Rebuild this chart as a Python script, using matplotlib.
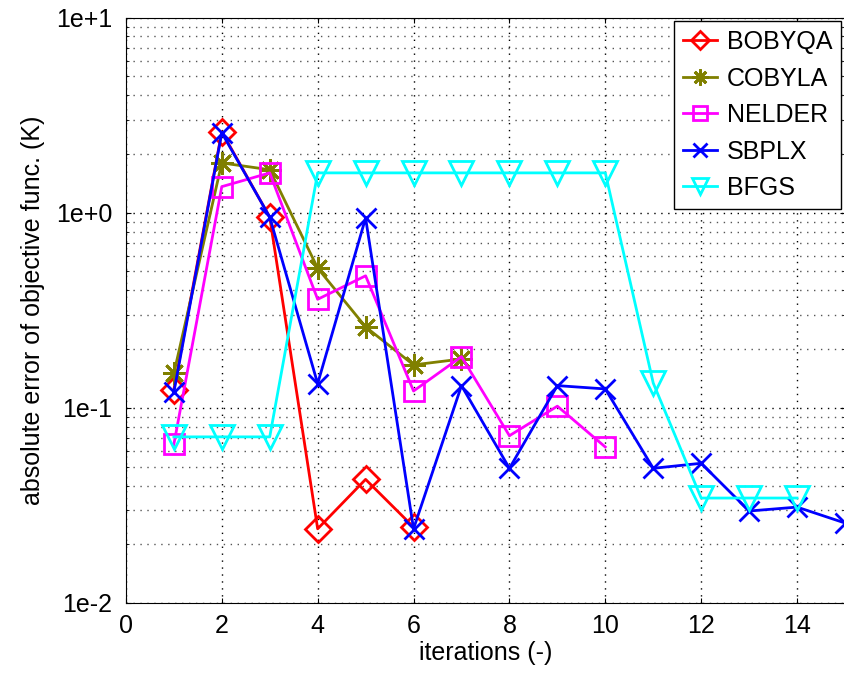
import numpy as np
import matplotlib.pyplot as plt
from matplotlib.ticker import FixedLocator, FixedFormatter, LogLocator, NullFormatter

plt.rcParams['font.family'] = ['Liberation Sans', 'DejaVu Sans']

it_bobyqa = [1, 2, 3, 4, 5, 6]
bobyqa = [0.124, 2.6, 0.95, 0.024, 0.043, 0.0245]

it_cobyla = [1, 2, 3, 4, 5, 6, 7]
cobyla = [0.15, 1.8, 1.66, 0.52, 0.26, 0.166, 0.178]

it_nelder = [1, 2, 3, 4, 5, 6, 7, 8, 9, 10]
nelder = [0.065, 1.36, 1.6, 0.36, 0.475, 0.122, 0.183, 0.072, 0.102, 0.063]

it_sbplx = [1, 2, 3, 4, 5, 6, 7, 8, 9, 10, 11, 12, 13, 14, 15]
sbplx = [0.12, 2.57, 0.95, 0.133, 0.94, 0.024, 0.13, 0.049, 0.13, 0.125,
         0.049, 0.052, 0.0296, 0.031, 0.0257]

it_bfgs = [1, 2, 3, 4, 5, 6, 7, 8, 9, 10, 11, 12, 13, 14]
bfgs = [0.071, 0.071, 0.071, 1.6, 1.6, 1.6, 1.6, 1.6, 1.6, 1.6, 0.134, 0.0345,
        0.0345, 0.0345]

fig = plt.figure(figsize=(8.45, 6.76), dpi=100)
ax = fig.add_axes([0.149, 0.108, 0.851, 0.866])

ms = 15
lw = 2
fs = 18
ax.plot(it_bobyqa, bobyqa, color='red', marker='D', ms=ms * 0.85, mfc='none',
        mew=lw, lw=lw, label='BOBYQA')
ax.plot(it_cobyla, cobyla, color='#808000', marker=(8, 2, 0), ms=ms * 1.1, mfc='none',
        mew=lw, lw=lw, label='COBYLA')
ax.plot(it_nelder, nelder, color='magenta', marker='s', ms=ms, mfc='none',
        mew=lw, lw=lw, label='NELDER')
ax.plot(it_sbplx, sbplx, color='blue', marker='x', ms=ms, mfc='none',
        mew=lw, lw=lw, label='SBPLX')
ax.plot(it_bfgs, bfgs, color='cyan', marker='v', ms=ms * 1.15, mfc='none',
        mew=lw, lw=lw, label='BFGS')

ax.set_yscale('log')
ax.set_xlim(0, 15)
ax.set_ylim(1e-2, 1e1)
ax.set_xticks([0, 2, 4, 6, 8, 10, 12, 14])
ax.yaxis.set_major_locator(FixedLocator([1e-2, 1e-1, 1e0, 1e1]))
ax.yaxis.set_major_formatter(FixedFormatter(['1e-2', '1e-1', '1e+0', '1e+1']))
ax.yaxis.set_minor_locator(LogLocator(base=10, subs=np.arange(2, 10)))
ax.yaxis.set_minor_formatter(NullFormatter())

ax.grid(True, which='major', linestyle=(0, (1, 4)), color='black', lw=1)
ax.grid(True, which='minor', axis='y', linestyle=(0, (1, 4)), color='#555555', lw=1)
ax.tick_params(which='both', direction='in', top=True, right=True, labelsize=fs)
ax.tick_params(axis='x', pad=8)
ax.tick_params(axis='y', pad=10)

ax.set_xlabel('iterations (-)', fontsize=fs, labelpad=2)
ax.set_ylabel('absolute error of objective func. (K)', fontsize=fs, labelpad=8)

leg = ax.legend(loc='upper right', fontsize=fs, fancybox=False, framealpha=1,
                edgecolor='black', borderaxespad=0.15, handlelength=1.35,
                labelspacing=0.5, borderpad=0.35, handletextpad=0.4,
                markerscale=0.7)
leg.get_frame().set_linewidth(1)

fig.savefig('out.png', dpi=100)
